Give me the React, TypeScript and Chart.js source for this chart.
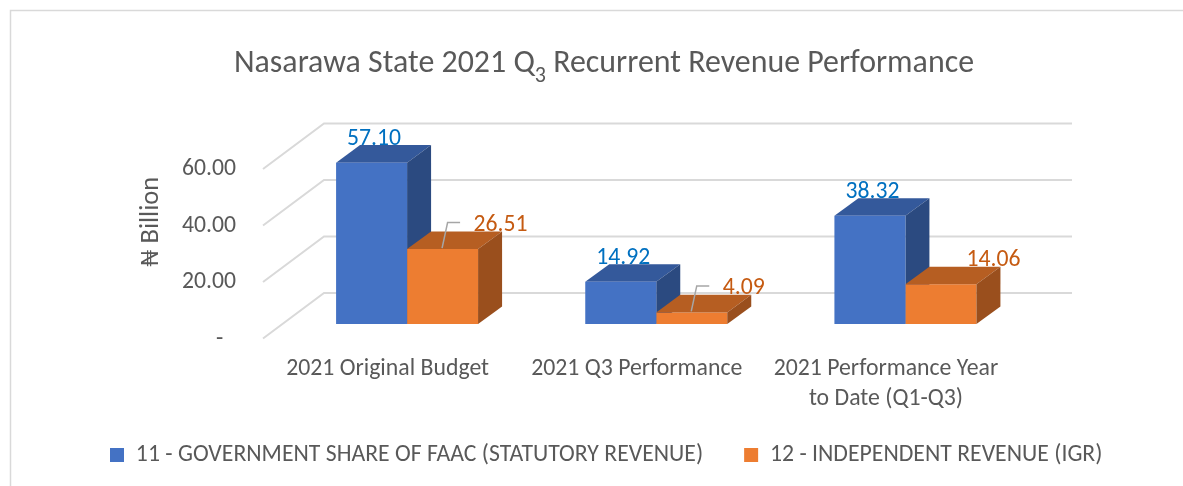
import React, { useEffect, useRef } from 'react';
import { Chart, registerables } from 'chart.js';

Chart.register(...registerables);

// ---------- data ----------
const categories: string[][] = [
  ['2021 Original Budget'],
  ['2021 Q3 Performance'],
  ['2021 Performance Year', 'to Date (Q1-Q3)'],
];
const seriesNames = [
  '11 - GOVERNMENT SHARE OF FAAC (STATUTORY REVENUE)',
  '12 - INDEPENDENT REVENUE (IGR)',
];
const faacValues = [57.1, 14.92, 38.32];
const igrValues = [26.51, 4.09, 14.06];
const yTickValues = [0, 20, 40, 60];
const titleMain = 'Nasarawa State 2021 Q';
const titleSub = '3';
const titleRest = ' Recurrent Revenue Performance';
const yAxisTitle = '₦ Billion';

// ---------- style ----------
const W = 1183;
const H = 486;
const FONT = 'Carlito, Lato, sans-serif';
const TEXT = '#595959';
const GRID = '#D9D9D9';
const FRONT = ['#4472C4', '#ED7D31'];
const TOP = ['#34599B', '#B65E22'];
const SIDE = ['#2B4A80', '#9A4F1D'];
const LABEL = ['#0070C0', '#C55A11'];
const DX = 24;
const DY = -17.6;
const orangeLabelDx = [31, 31, 25.5];
const orangeLeader = [true, true, false];

function measure(text: string): number {
  const c = document.createElement('canvas').getContext('2d')!;
  c.font = `100px ${FONT}`;
  return c.measureText(text).width / 100;
}
function fit(text: string, width: number): number {
  return width / measure(text);
}

function drawFaces(ctx: CanvasRenderingContext2D, el: any, di: number) {
  const { x, y, base, width } = el.getProps(['x', 'y', 'base', 'width'], true);
  const l = x - width / 2;
  const r = x + width / 2;
  ctx.fillStyle = TOP[di];
  ctx.beginPath();
  ctx.moveTo(l, y);
  ctx.lineTo(l + DX, y + DY);
  ctx.lineTo(r + DX, y + DY);
  ctx.lineTo(r, y);
  ctx.closePath();
  ctx.fill();
  ctx.fillStyle = SIDE[di];
  ctx.beginPath();
  ctx.moveTo(r, y);
  ctx.lineTo(r + DX, y + DY);
  ctx.lineTo(r + DX, base + DY);
  ctx.lineTo(r, base);
  ctx.closePath();
  ctx.fill();
}

export default function App() {
  const ref = useRef<HTMLCanvasElement>(null);

  useEffect(() => {
    if (!ref.current) return;
    const fsTick = fit('60.00', 54);
    const fsX = fit('2021 Original Budget', 203);
    // legend: box(14) + fs/2 + text1 + gap + box(14) + fs/2 + text2 spans 110 -> 1103
    const P = 41;
    const fsLeg = (993 - 28 - P) / (measure(seriesNames[0]) + measure(seriesNames[1]) + 1);
    const fsTitle = fit(titleMain + titleRest, 729);
    const fsYT = fit(yAxisTitle, 90);

    const padL = 110 - P;
    const padR = 20;
    const chartRight = 1030;
    const chartLeft = 282.5;
    const chartTop = 154.5;
    const chartBottom = 324;
    const padBottom = Math.max(0, 21 - fsLeg / 2);
    const legendTop = 455 - P - fsLeg / 2;
    const xAxisH = legendTop - chartBottom;

    const bg3d = {
      id: 'bg3d',
      beforeDraw(chart: any) {
        const ctx = chart.ctx;
        ctx.save();
        ctx.strokeStyle = GRID;
        ctx.lineWidth = 1.5;
        ctx.strokeRect(10.5, 10.5, W + 20, H + 20);
        ctx.restore();
      },
      beforeDatasetsDraw(chart: any) {
        const ctx = chart.ctx;
        const ys = chart.scales.y;
        const { left, right } = chart.chartArea;
        ctx.save();
        ctx.strokeStyle = GRID;
        ctx.lineWidth = 2;
        yTickValues.forEach((v) => {
          const yb = ys.getPixelForValue(v);
          ctx.beginPath();
          ctx.moveTo(left - 19.5, yb + 14.5);
          ctx.lineTo(left + 41.5, yb - 31);
          ctx.lineTo(right + 42, yb - 31);
          ctx.stroke();
        });
        const meta0 = chart.getDatasetMeta(0);
        meta0.data.forEach((el: any) => drawFaces(ctx, el, 0));
        ctx.restore();
      },
      afterDatasetsDraw(chart: any) {
        const ctx = chart.ctx;
        ctx.save();
        const meta1 = chart.getDatasetMeta(1);
        meta1.data.forEach((el: any) => drawFaces(ctx, el, 1));

        ctx.font = `${fsTick}px ${FONT}`;
        ctx.textBaseline = 'alphabetic';
        const m0 = chart.getDatasetMeta(0);
        m0.data.forEach((el: any, i: number) => {
          const { x, y } = el.getProps(['x', 'y'], true);
          ctx.fillStyle = LABEL[0];
          ctx.textAlign = 'center';
          ctx.fillText(Number(chart.data.datasets[0].data[i]).toFixed(2), x + 2.5, y - 18);
        });
        meta1.data.forEach((el: any, i: number) => {
          const { x, y } = el.getProps(['x', 'y'], true);
          if (orangeLeader[i]) {
            ctx.strokeStyle = '#A6A6A6';
            ctx.lineWidth = 1.5;
            ctx.beginPath();
            ctx.moveTo(x - 0.5, y - 1);
            ctx.lineTo(x + 5, y - 26.5);
            ctx.lineTo(x + 17.5, y - 26.5);
            ctx.stroke();
          }
          ctx.fillStyle = LABEL[1];
          ctx.textAlign = 'left';
          ctx.fillText(Number(chart.data.datasets[1].data[i]).toFixed(2), x + orangeLabelDx[i], y - 18.3);
        });
        ctx.restore();
      },
      afterDraw(chart: any) {
        const ctx = chart.ctx;
        ctx.save();
        ctx.fillStyle = TEXT;
        ctx.textBaseline = 'alphabetic';
        ctx.textAlign = 'left';
        ctx.font = `${fsTitle}px ${FONT}`;
        const wA = ctx.measureText(titleMain).width;
        const wB = ctx.measureText(titleRest).width;
        ctx.font = `${fsTitle * 0.69}px ${FONT}`;
        const wS = ctx.measureText(titleSub).width;
        const x0 = 604 - (wA + wS + wB) / 2;
        ctx.font = `${fsTitle}px ${FONT}`;
        ctx.fillText(titleMain, x0, 71.7);
        ctx.fillText(titleRest, x0 + wA + wS, 71.7);
        ctx.font = `${fsTitle * 0.69}px ${FONT}`;
        ctx.fillText(titleSub, x0 + wA, 81.7);

        ctx.translate(151.7, 221.7);
        ctx.rotate(-Math.PI / 2);
        ctx.textAlign = 'center';
        ctx.textBaseline = 'middle';
        ctx.font = `${fsYT}px ${FONT}`;
        ctx.fillText(yAxisTitle, 0, 0);
        ctx.restore();
      },
    };

    const chart = new Chart(ref.current, {
      type: 'bar',
      data: {
        labels: categories,
        datasets: [
          { label: seriesNames[0], data: faacValues, backgroundColor: FRONT[0], borderWidth: 0 },
          { label: seriesNames[1], data: igrValues, backgroundColor: FRONT[1], borderWidth: 0 },
        ],
      },
      options: {
        responsive: false,
        animation: false,
        events: [],
        layout: { padding: { left: padL, right: padR, top: chartTop, bottom: padBottom } },
        datasets: { bar: { barPercentage: 1, categoryPercentage: 142 / ((chartRight - chartLeft) / 3) } },
        plugins: {
          title: { display: false },
          tooltip: { enabled: false },
          legend: {
            display: true,
            position: 'bottom',
            align: 'start',
            labels: {
              boxWidth: 14,
              boxHeight: 14,
              padding: P,
              color: TEXT,
              font: { family: FONT, size: fsLeg },
            },
          },
        },
        scales: {
          x: {
            type: 'category',
            grid: { display: false, drawTicks: false },
            border: { display: false },
            ticks: {
              color: TEXT,
              font: { family: FONT, size: fsX, lineHeight: 30 / fsX },
              padding: 30,
              labelOffset: -19.5,
              maxRotation: 0,
              minRotation: 0,
              autoSkip: false,
            },
            afterFit: (s: any) => {
              s.height = xAxisH;
              // let the two-line label extend below the axis box
              s._computeLabelArea = () => undefined;
            },
          },
          y: {
            type: 'linear',
            position: 'left',
            min: yTickValues[0],
            max: yTickValues[yTickValues.length - 1],
            afterBuildTicks: (s: any) => {
              s.ticks = yTickValues.map((v) => ({ value: v }));
            },
            grid: { display: false, drawTicks: false },
            border: { display: false },
            ticks: {
              color: TEXT,
              font: { family: FONT, size: fsTick },
              padding: 46.5,
              labelOffset: 15,
              callback: (v: any) => (Number(v) === 0 ? '-\u2007' : Number(v).toFixed(2)),
            },
            afterFit: (s: any) => {
              s.width = chartLeft - padL;
            },
          },
          yR: {
            type: 'linear',
            position: 'right',
            display: true,
            grid: { display: false, drawTicks: false },
            border: { display: false },
            ticks: { display: false },
            afterFit: (s: any) => {
              s.width = W - padR - chartRight;
            },
          },
        },
      },
      plugins: [bg3d],
    } as any);
    return () => chart.destroy();
  }, []);

  return (
    <div style={{ position: 'fixed', left: 0, top: 0, width: W, height: H, background: '#fff' }}>
      <canvas ref={ref} width={W} height={H} style={{ display: 'block', width: W, height: H }} />
    </div>
  );
}
